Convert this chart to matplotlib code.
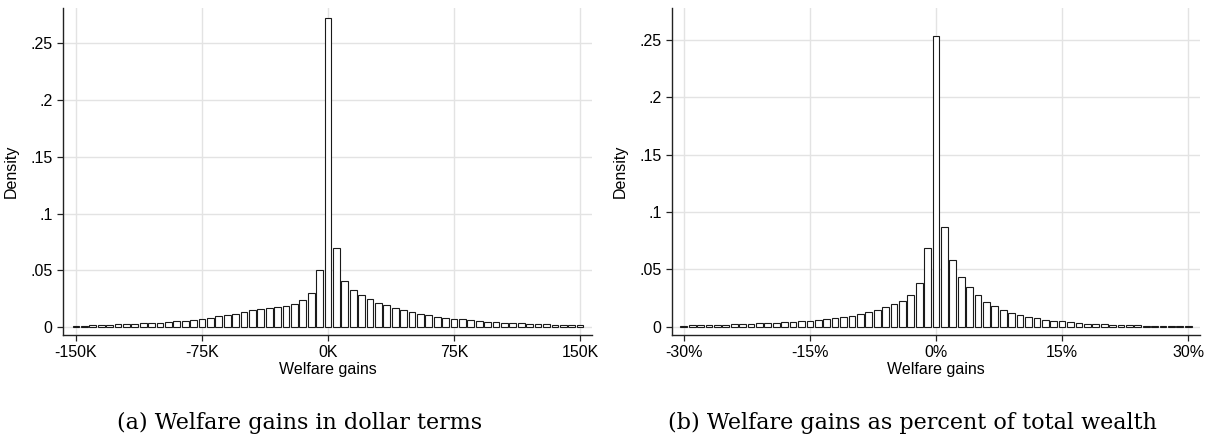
import numpy as np
import matplotlib
matplotlib.use("Agg")
import matplotlib.pyplot as plt

# ---- data ----
# panel (a): bins of 5K dollars, centres -150K .. 150K
dollar_bins = np.arange(-150, 151, 5)
dollar_density = [
    0.0012, 0.0012, 0.0015, 0.0018, 0.0020, 0.0024, 0.0026, 0.0030, 0.0032, 0.0035,
    0.0038, 0.0044, 0.0050, 0.0056, 0.0065, 0.0074, 0.0082, 0.0094, 0.0110, 0.0118,
    0.0130, 0.0147, 0.0160, 0.0170, 0.0180, 0.0188, 0.0207, 0.0238, 0.0300, 0.0500,
    0.2726,
    0.0693, 0.0410, 0.0326, 0.0279, 0.0244, 0.0214, 0.0191, 0.0165, 0.0147, 0.0129,
    0.0114, 0.0103, 0.0091, 0.0079, 0.0073, 0.0067, 0.0059, 0.0053, 0.0047, 0.0044,
    0.0038, 0.0035, 0.0032, 0.0029, 0.0026, 0.0023, 0.0021, 0.0020, 0.0018, 0.0015,
]
dollar_ticks = [-150, -75, 0, 75, 150]
dollar_ticklabels = ["-150K", "-75K", "0K", "75K", "150K"]

# panel (b): bins of 1 percent, centres -30% .. 30%
pct_bins = np.arange(-30, 31, 1)
pct_density = [
    0.0010, 0.0011, 0.0012, 0.0014, 0.0016, 0.0017, 0.0020, 0.0023, 0.0026, 0.0029,
    0.0032, 0.0035, 0.0038, 0.0041, 0.0047, 0.0052, 0.0058, 0.0064, 0.0076, 0.0084,
    0.0096, 0.0110, 0.0125, 0.0145, 0.0169, 0.0198, 0.0227, 0.0277, 0.0385, 0.0688,
    0.2538,
    0.0871, 0.0586, 0.0437, 0.0344, 0.0274, 0.0219, 0.0184, 0.0146, 0.0119, 0.0102,
    0.0087, 0.0076, 0.0061, 0.0052, 0.0047, 0.0038, 0.0032, 0.0026, 0.0023, 0.0020,
    0.0017, 0.0015, 0.0012, 0.0011, 0.0010, 0.0009, 0.0008, 0.0008, 0.0007, 0.0007,
]
pct_ticks = [-30, -15, 0, 15, 30]
pct_ticklabels = ["-30%", "-15%", "0%", "15%", "30%"]

y_ticks = [0, 0.05, 0.1, 0.15, 0.2, 0.25]
y_ticklabels = ["0", ".05", ".1", ".15", ".2", ".25"]

plt.rcParams['font.family'] = ['Liberation Sans', 'DejaVu Sans']

fig = plt.figure(figsize=(12.10, 4.41), dpi=100)


def stata_hist(ax, bins, dens, width, ticks, ticklabels, xlim, ylim):
    ax.bar(bins, dens, width=width * 0.8, color="white", edgecolor="#1a1a1a",
           linewidth=0.8, zorder=3)
    ax.set_xlim(*xlim)
    ax.set_ylim(*ylim)
    ax.set_xticks(ticks)
    ax.set_xticklabels(ticklabels)
    ax.set_yticks(y_ticks)
    ax.set_yticklabels(y_ticklabels)
    ax.grid(True, color="#e3e3e3", linewidth=1.0, zorder=0)
    ax.set_axisbelow(True)
    for s in ["top", "right"]:
        ax.spines[s].set_visible(False)
    for s in ["left", "bottom"]:
        ax.spines[s].set_color("#222222")
        ax.spines[s].set_linewidth(1.0)
    ax.tick_params(direction="out", length=4.5, width=0.9, color="#222222",
                   labelsize=11.5, pad=3)
    ax.set_xlabel("Welfare gains", fontsize=11.5, labelpad=1)
    ax.set_ylabel("Density", fontsize=11.5, labelpad=8)


ax1 = fig.add_axes([63 / 1210, 1 - 335 / 441, (592 - 63) / 1210, (335 - 8) / 441])
stata_hist(ax1, dollar_bins, dollar_density, 5, dollar_ticks, dollar_ticklabels,
           (-157.7, 157.1), (-0.007, 0.281))

ax2 = fig.add_axes([672 / 1210, 1 - 335 / 441, (1200 - 672) / 1210, (335 - 8) / 441])
stata_hist(ax2, pct_bins, pct_density, 1, pct_ticks, pct_ticklabels,
           (-31.4, 31.4), (-0.0072, 0.278))

cap_font = ['DejaVu Serif']
fig.text(300 / 1210, 1 - 423 / 441, "(a) Welfare gains in dollar terms",
         ha="center", va="center", fontsize=16, family=cap_font)
fig.text(912 / 1210, 1 - 423 / 441, "(b) Welfare gains as percent of total wealth",
         ha="center", va="center", fontsize=16, family=cap_font)

fig.savefig("out.png", dpi=100)
